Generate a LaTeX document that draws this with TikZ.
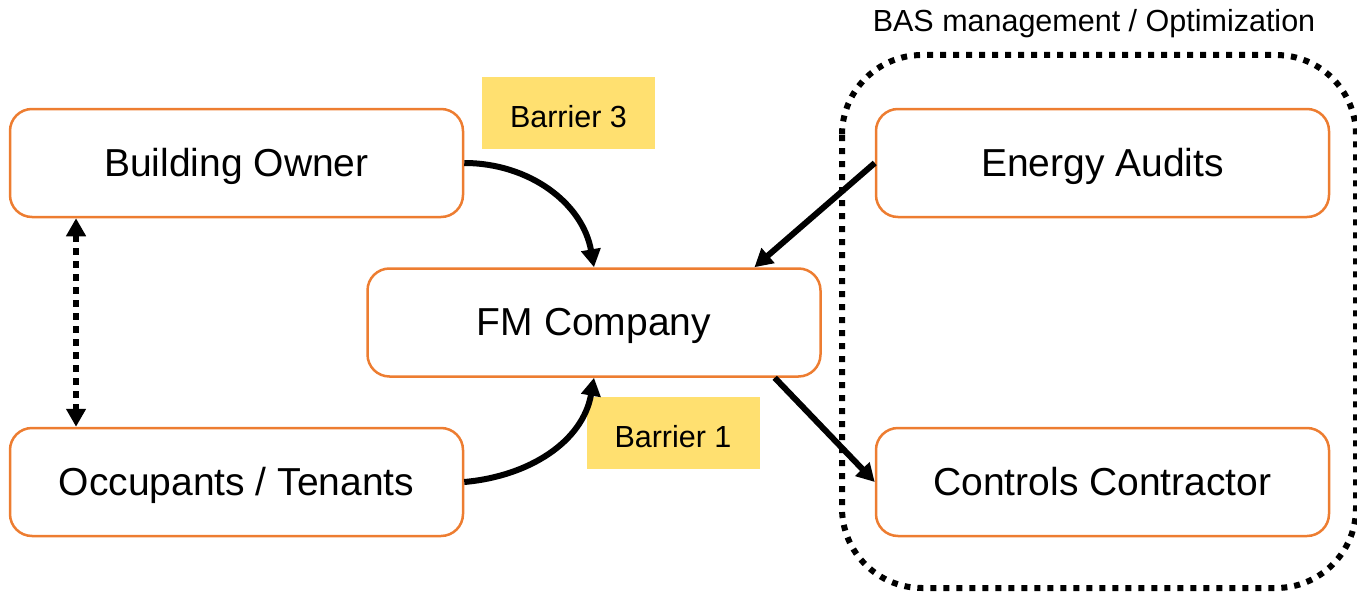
\documentclass[tikz,border=0pt]{standalone}
\usepackage{fontspec}
\setmainfont{Liberation Sans}
\usepackage{tikz}
\usetikzlibrary{arrows,arrows.meta,shapes}
\usetikzlibrary{positioning}
\definecolor{boxorange}{HTML}{ED7D31}
\definecolor{noteyellow}{HTML}{FFE070}
\tikzstyle{party} = [rectangle, rounded corners=22pt, minimum width=453pt, minimum height=108pt, text centered, text height=34pt, text depth=8pt, draw=boxorange, line width=2.5pt, font=\fontsize{39}{46}\selectfont]
\tikzstyle{barrier} = [rectangle, fill=noteyellow, minimum width=173pt, minimum height=72pt, text height=28pt, text depth=0pt, font=\fontsize{30.5}{36}\selectfont]
\tikzstyle{arrow} = [line width=6pt,-{Triangle[length=18pt,width=19pt]}]
\tikzstyle{dotarrow} = [line width=6.5pt, dash pattern=on 6.5pt off 6.5pt, {Triangle[length=18pt,width=19pt]}-{Triangle[length=18pt,width=19pt]}]
\tikzstyle{frame} = [line width=6pt, dash pattern=on 6pt off 7pt, rounded corners=80pt]
\begin{document}
\begin{tikzpicture}[x=1pt,y=1pt]
\useasboundingbox (0,0) rectangle (1357,-594);
% group around the BAS side
\draw [frame] (842,-55) rectangle (1356,-588);
\node [text height=28pt, text depth=6.4pt] (bas) at (1094,-21) {\fontsize{30.5}{36}\selectfont BAS management / Optimization};
% parties
\node [party] (bo) at (236.5,-163) {Building Owner};
\node [party] (occ) at (236.5,-482) {Occupants / Tenants};
\node [party] (fm) at (594,-322.5) {FM Company};
\node [party] (ea) at (1102.5,-163) {Energy Audits};
\node [party] (cc) at (1102.5,-482) {Controls Contractor};
% barriers
\node [barrier] (b3) at (568.5,-113) {Barrier 3};
\node [barrier] (b1) at (673,-433) {Barrier 1};
% links
\draw [dotarrow] (bo.-161.5) -- (occ.161.5);
\draw [arrow] (bo.east) to[out=0,in=100] (fm.north);
\draw [arrow] (occ.east) to[out=5,in=-100] (fm.south);
\draw [arrow] (ea.west) -- (fm.19);
\draw [arrow] (fm.-17.5) -- (cc.west);
\end{tikzpicture}
\end{document}
